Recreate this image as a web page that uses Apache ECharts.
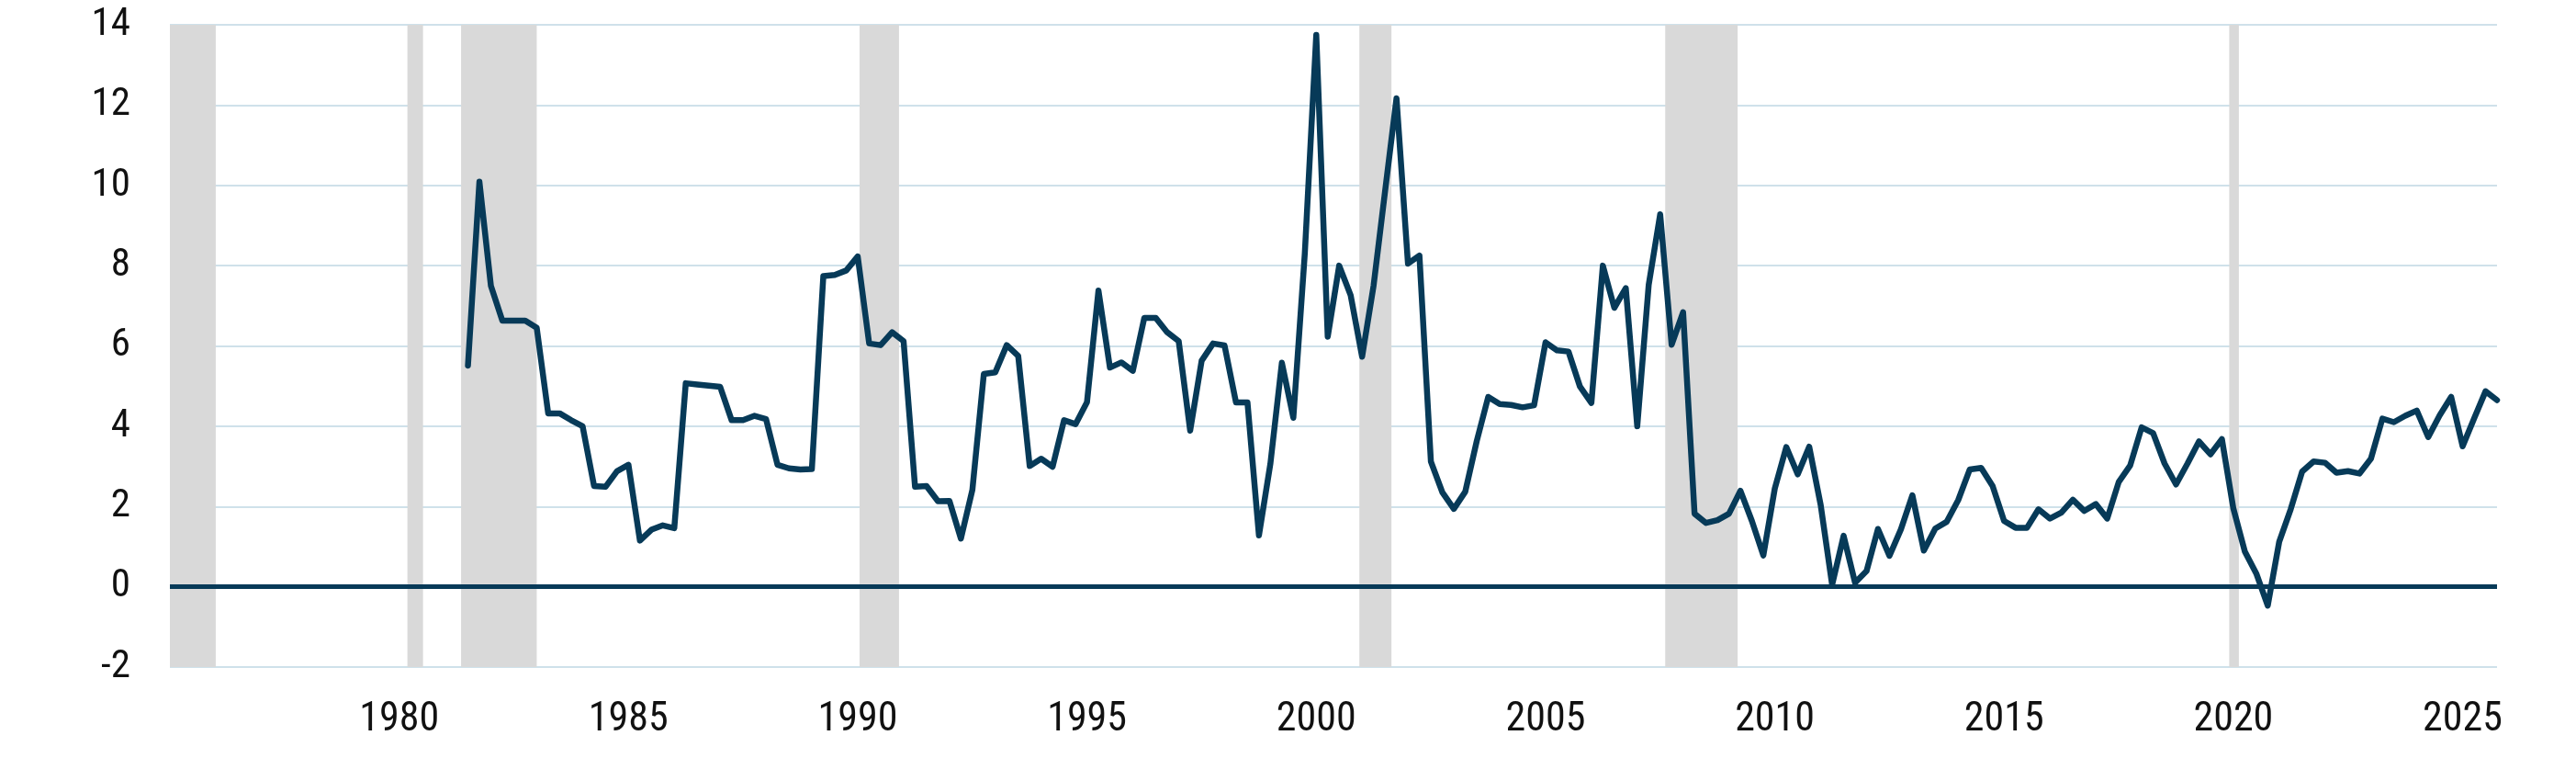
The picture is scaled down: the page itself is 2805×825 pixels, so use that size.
<!DOCTYPE html>
<html>
<head>
<meta charset="utf-8">
<script src="https://cdn.jsdelivr.net/npm/echarts@6/dist/echarts.min.js"></script>
<style>
  html, body { margin: 0; padding: 0; background: #ffffff; }
  #chart { width: 2805px; height: 825px; }
</style>
</head>
<body>
<div id="chart"></div>
<script>
// ---- data ----
// quarterly observations, first one at the end of 1981 Q2 (decimal year 1981.5)
const firstQuarterEnd = 1981.5;
const quarterStep = 0.25;
const values = [
  5.51, 10.09, 7.50, 6.63, 6.63, 6.63, 6.45, 4.32, 4.32, 4.15,
  4.00, 2.51, 2.49, 2.88, 3.04, 1.15, 1.42, 1.53, 1.46, 5.07,
  5.04, 5.01, 4.98, 4.15, 4.15, 4.26, 4.18, 3.04, 2.95, 2.92,
  2.93, 7.74, 7.77, 7.88, 8.23, 6.06, 6.02, 6.34, 6.12, 2.49,
  2.51, 2.13, 2.14, 1.20, 2.41, 5.30, 5.34, 6.02, 5.75, 3.01,
  3.19, 2.99, 4.15, 4.05, 4.60, 7.38, 5.46, 5.59, 5.38, 6.70,
  6.70, 6.34, 6.12, 3.89, 5.63, 6.06, 6.01, 4.59, 4.59, 1.28,
  3.07, 5.58, 4.21, 8.30, 13.75, 6.23, 8.00, 7.26, 5.73, 7.50,
  9.85, 12.17, 8.05, 8.25, 3.12, 2.35, 1.94, 2.37, 3.63, 4.73,
  4.55, 4.53, 4.47, 4.52, 6.09, 5.89, 5.86, 4.99, 4.58, 8.00,
  6.95, 7.44, 4.00, 7.52, 9.28, 6.03, 6.84, 1.82, 1.59, 1.66,
  1.82, 2.39, 1.64, 0.78, 2.45, 3.48, 2.80, 3.49, 2.04, 0.05,
  1.27, 0.10, 0.39, 1.44, 0.77, 1.43, 2.28, 0.90, 1.45, 1.62,
  2.16, 2.92, 2.96, 2.51, 1.64, 1.47, 1.47, 1.93, 1.70, 1.85,
  2.17, 1.89, 2.06, 1.70, 2.61, 3.02, 3.97, 3.83, 3.07, 2.55,
  3.07, 3.62, 3.30, 3.68, 1.95, 0.88, 0.33, -0.47, 1.12, 1.93,
  2.87, 3.12, 3.09, 2.84, 2.88, 2.82, 3.19, 4.19, 4.10, 4.26,
  4.39, 3.73, 4.27, 4.73, 3.50, 4.19, 4.87, 4.65
];
// shaded recession periods, decimal years [start, end]
const recessionStarts = [1975.0, 1980.18, 1981.35, 1990.04, 2000.94, 2007.61, 2019.91];
const recessionEnds   = [1976.0, 1980.52, 1983.0, 1990.90, 2001.64, 2009.19, 2020.12];
// axis ticks
const xTickYears = [1980, 1985, 1990, 1995, 2000, 2005, 2010, 2015, 2020, 2025];
const yTicks = [-2, 0, 2, 4, 6, 8, 10, 12, 14];

// ---- build ----
const lineData = values.map((v, i) => [firstQuarterEnd + i * quarterStep, v]);
const bandData = recessionStarts.map((s, i) => [{ xAxis: s }, { xAxis: recessionEnds[i] }]);

const fontFam = "'Roboto Condensed', 'Liberation Sans Narrow', 'DejaVu Sans Condensed', Roboto, sans-serif";
const navy = '#073a58';

const chart = echarts.init(document.getElementById('chart'), null, { renderer: 'canvas' });
chart.setOption({
  animation: false,
  backgroundColor: '#ffffff',
  grid: { left: 185, right: 86, top: 27, bottom: 99, containLabel: false },
  xAxis: {
    type: 'value',
    min: 1975,
    max: 2025.75,
    axisLine: { show: false },
    axisTick: { show: false },
    splitLine: { show: false },
    axisLabel: {
      customValues: xTickYears,
      fontSize: 44,
      fontFamily: fontFam,
      color: '#111111',
      margin: 36,
      formatter: v => String(Math.round(v))
    }
  },
  yAxis: {
    type: 'value',
    min: yTicks[0],
    max: yTicks[yTicks.length - 1],
    interval: 2,
    axisLine: { show: false },
    axisTick: { show: false },
    splitLine: { show: true, lineStyle: { color: '#cfe1ea', width: 2 } },
    axisLabel: {
      fontSize: 43,
      fontFamily: fontFam,
      color: '#111111',
      margin: 43
    }
  },
  series: [
    {
      name: 'bands',
      type: 'line',
      data: [],
      z: 1,
      silent: true,
      markArea: {
        silent: true,
        itemStyle: { color: '#d9d9d9' },
        data: bandData
      }
    },
    {
      name: 'zero',
      type: 'line',
      data: [],
      z: 2,
      silent: true,
      markLine: {
        silent: true,
        symbol: ['none', 'none'],
        label: { show: false },
        lineStyle: { color: navy, width: 5, type: 'solid' },
        data: [{ yAxis: 0 }]
      }
    },
    {
      name: 'value',
      type: 'line',
      data: lineData,
      z: 3,
      showSymbol: false,
      symbol: 'none',
      lineStyle: { color: navy, width: 6.5, cap: 'round', join: 'round' }
    }
  ]
});
</script>
</body>
</html>
